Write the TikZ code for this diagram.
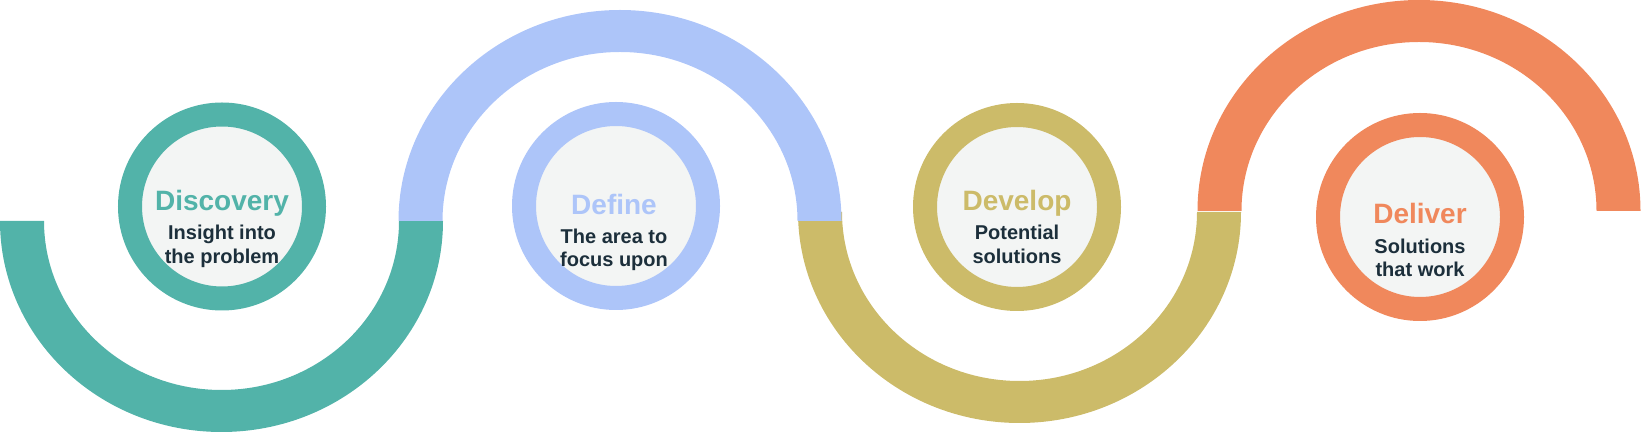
\documentclass[tikz,border=0pt]{standalone}
\usepackage{fontspec}
\setmainfont{Liberation Sans}
\usetikzlibrary{positioning}
\definecolor{ringteal}{HTML}{52B3A9}
\definecolor{ringblue}{HTML}{ADC5F9}
\definecolor{ringolive}{HTML}{CCBB69}
\definecolor{ringorange}{HTML}{F0885C}
\definecolor{innergrey}{HTML}{F3F5F4}
\definecolor{textdark}{HTML}{1C2F3B}
\begin{document}
\begin{tikzpicture}[x=1pt,y=1pt,
  ring/.style={circle,draw=#1,line width=24pt,fill=innergrey,minimum size=184pt,inner sep=0pt},
  head/.style={anchor=base,text=#1,font=\fontsize{28}{28}\selectfont\bfseries},
  sub/.style={anchor=base,align=center,text=textdark,font=\fontsize{20}{23.5}\selectfont\bfseries}]
\useasboundingbox (0,0) rectangle (1641,433);
\fill[ringteal] (0,212) arc[start angle=180,end angle=360,x radius=221.5,y radius=211] -- ++(-44,0) arc[start angle=360,end angle=180,x radius=177.5,y radius=169] -- cycle;
\fill[ringolive] (798,221) arc[start angle=180,end angle=360,x radius=221.5,y radius=211] -- ++(-44,0) arc[start angle=360,end angle=180,x radius=177.5,y radius=169] -- cycle;
\fill[ringblue] (398.5,212) arc[start angle=180,end angle=0,x radius=221.5,y radius=211] -- ++(-44,0) arc[start angle=0,end angle=180,x radius=177.5,y radius=169] -- cycle;
\fill[ringorange] (1197.5,222) arc[start angle=180,end angle=0,x radius=221.5,y radius=211] -- ++(-44,0) arc[start angle=0,end angle=180,x radius=177.5,y radius=169] -- cycle;
\node[ring=ringteal] (discovery) at (222,226.5) {};
\node[ring=ringblue] (define) at (616,227) {};
\node[ring=ringolive] (develop) at (1017,226) {};
\node[ring=ringorange] (deliver) at (1420,216) {};
\node[head=ringteal] (discoveryhead) at (222,222) {Discovery};
\node[sub] (discoverytext) at ([yshift=-52.5pt]discoveryhead.base) {Insight into\\the problem};
\node[head=ringblue] (definehead) at (614,218) {Define};
\node[sub] (definetext) at ([yshift=-52pt]definehead.base) {The area to\\focus upon};
\node[head=ringolive] (develophead) at (1017,222) {Develop};
\node[sub] (developtext) at ([yshift=-52.5pt]develophead.base) {Potential\\solutions};
\node[head=ringorange] (deliverhead) at (1420,209) {Deliver};
\node[sub] (delivertext) at ([yshift=-53pt]deliverhead.base) {Solutions\\that work};
\end{tikzpicture}
\end{document}
